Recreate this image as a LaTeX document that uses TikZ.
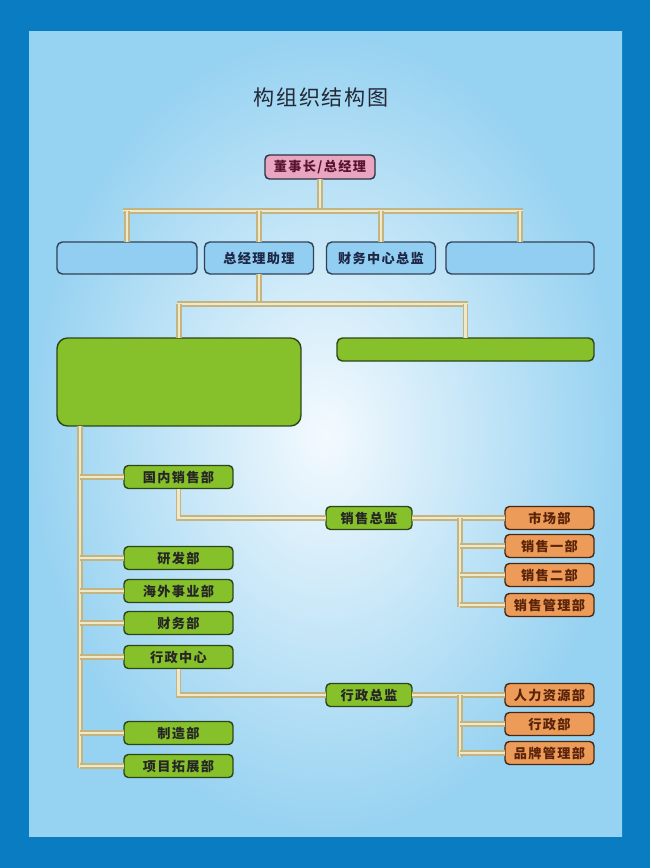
\documentclass[tikz,border=0pt]{standalone}
\usepackage{xcolor}
\usepackage{fontspec}
\usepackage{tikz}
\usetikzlibrary{positioning, calc}
\newfontfamily\cjk[LetterSpace=10]{Noto Sans CJK SC}
\newfontfamily\cjktitle[LetterSpace=8]{Noto Sans CJK SC}
\definecolor{frameblue}{RGB}{10,124,193}
\definecolor{skyedge}{RGB}{150,210,241}
\definecolor{skymid}{RGB}{244,250,254}
\definecolor{pinkfill}{RGB}{234,166,193}
\definecolor{pinktext}{RGB}{90,20,50}
\definecolor{bluefill}{RGB}{146,206,242}
\definecolor{bluedraw}{RGB}{50,65,85}
\definecolor{bluetext}{RGB}{30,40,70}
\definecolor{greenfill}{RGB}{134,192,42}
\definecolor{greendraw}{RGB}{45,70,25}
\definecolor{orangefill}{RGB}{236,156,88}
\definecolor{orangedraw}{RGB}{70,40,20}
\definecolor{orangetext}{RGB}{90,35,10}
\definecolor{pipeout}{RGB}{196,180,128}
\definecolor{pipein}{RGB}{240,232,202}
\definecolor{titlegray}{RGB}{35,40,55}
\tikzset{
  box/.style={rectangle, rounded corners=2.5pt, line width=0.8pt,
    inner sep=0pt, outer sep=0pt, minimum height=0.46cm,
    font=\cjk\fontsize{7.5}{9}\selectfont\bfseries},
  bossbox/.style={box, draw=bluedraw!80!black, fill=pinkfill, text=pinktext,
    minimum width=2.2cm, minimum height=0.48cm},
  helperbox/.style={box, draw=bluedraw, fill=bluefill, text=bluetext,
    minimum height=0.64cm, rounded corners=3pt},
  greenbox/.style={box, draw=greendraw, fill=greenfill, text=black!85,
    minimum width=2.18cm},
  headbox/.style={box, draw=greendraw, fill=greenfill, text=black!85,
    minimum width=1.72cm},
  deptbox/.style={box, draw=orangedraw, fill=orangefill, text=orangetext,
    minimum width=1.78cm},
  pipe/.style={draw=pipeout, line width=0.9pt, double=pipein,
    double distance=1.5pt}
}
\begin{document}
\begin{tikzpicture}[x=0.02cm, y=-0.02cm]
  % frame and sky background
  \fill[frameblue] (0,0) rectangle (650,868);
  \shade[inner color=skymid, outer color=skyedge] (29,32) rectangle (622,836);
  \useasboundingbox (0,0) rectangle (650,868);

  % title
  \node[font=\cjktitle\fontsize{12}{14}\selectfont, text=titlegray] (title) at (321,97) {构组织结构图};

  % top level
  \node[bossbox] (boss) at (320,167) {董事长/总经理};

  % second row
  \node[helperbox, minimum width=2.8cm] (aide1) at (127,258) {};
  \node[helperbox, minimum width=2.18cm] (aide2) at (259,258) {总经理助理};
  \node[helperbox, minimum width=2.18cm] (aide3) at (381,258) {财务中心总监};
  \node[helperbox, minimum width=2.96cm] (aide4) at (520,258) {};

  % green panels
  \node[box, draw=greendraw, fill=greenfill, rounded corners=6pt,
    minimum width=4.88cm, minimum height=1.76cm] (panel) at (179,382) {};
  \node[box, draw=greendraw, fill=greenfill, rounded corners=3pt,
    minimum width=5.14cm, minimum height=0.46cm] (strip) at (465.5,349.5) {};

  % departments on the left
  \node[greenbox] (sales) at (178.5,477) {国内销售部};
  \node[greenbox] (rnd) at (178.5,558) {研发部};
  \node[greenbox] (overseas) at (178.5,591) {海外事业部};
  \node[greenbox] (finance) at (178.5,623) {财务部};
  \node[greenbox] (admin) at (178.5,657) {行政中心};
  \node[greenbox] (factory) at (178.5,733) {制造部};
  \node[greenbox] (project) at (178.5,766) {项目拓展部};

  % directors
  \node[headbox] (salesdir) at (369,518) {销售总监};
  \node[headbox] (admindir) at (369,695) {行政总监};

  % orange units
  \node[deptbox] (market) at (549.5,518) {市场部};
  \node[deptbox] (salesone) at (549.5,546) {销售一部};
  \node[deptbox] (salestwo) at (549.5,575) {销售二部};
  \node[deptbox] (salesmgmt) at (549.5,605) {销售管理部};
  \node[deptbox] (hr) at (549.5,695) {人力资源部};
  \node[deptbox] (office) at (549.5,724) {行政部};
  \node[deptbox] (brand) at (549.5,753) {品牌管理部};

  % bus points
  \coordinate (busA) at (320,211);
  \coordinate (busAl) at (123,211);
  \coordinate (busAr) at (523,211);
  \coordinate (busB) at (259,304);
  \coordinate (busBl) at (177,304);
  \coordinate (busBr) at (468,304);
  \coordinate (trunkTop) at (80,426);
  \coordinate (trunkEnd) at (80,768);
  \coordinate (salesBend) at (178.5,518);
  \coordinate (adminBend) at (178.5,695);
  \coordinate (salesBusEnd) at (460,607);
  \coordinate (adminBusEnd) at (460,757);

  % connectors, top part
  \draw[pipe] (boss.south) -- (busA);
  \draw[pipe] (busAl) -- (busAr);
  \draw[pipe] (aide1 |- busA) -- (aide1.north);
  \draw[pipe] (aide2 |- busA) -- (aide2.north);
  \draw[pipe] (aide3 |- busA) -- (aide3.north);
  \draw[pipe] (aide4 |- busA) -- (aide4.north);
  \draw[pipe] (aide2.south) -- (busB);
  \draw[pipe] (busBl) -- (busBr);
  \draw[pipe] (panel |- busB) -- (panel.north);
  \draw[pipe] (strip |- busB) -- (strip.north);

  % trunk on the left
  \draw[pipe] (trunkTop) -- (trunkEnd);
  \foreach \d in {sales, rnd, overseas, finance, admin, factory, project}
    \draw[pipe] (trunkTop |- \d.west) -- (\d.west);

  % sales branch
  \draw[pipe] (sales.south) -- (salesBend) -- (salesdir.west);
  \draw[pipe] (salesdir.east) -- (market.west);
  \draw[pipe] (salesBusEnd |- market.west) -- (salesBusEnd);
  \foreach \d in {salesone, salestwo, salesmgmt}
    \draw[pipe] (salesBusEnd |- \d.west) -- (\d.west);

  % admin branch
  \draw[pipe] (admin.south) -- (adminBend) -- (admindir.west);
  \draw[pipe] (admindir.east) -- (hr.west);
  \draw[pipe] (adminBusEnd |- hr.west) -- (adminBusEnd);
  \foreach \d in {office, brand}
    \draw[pipe] (adminBusEnd |- \d.west) -- (\d.west);
\end{tikzpicture}
\end{document}
